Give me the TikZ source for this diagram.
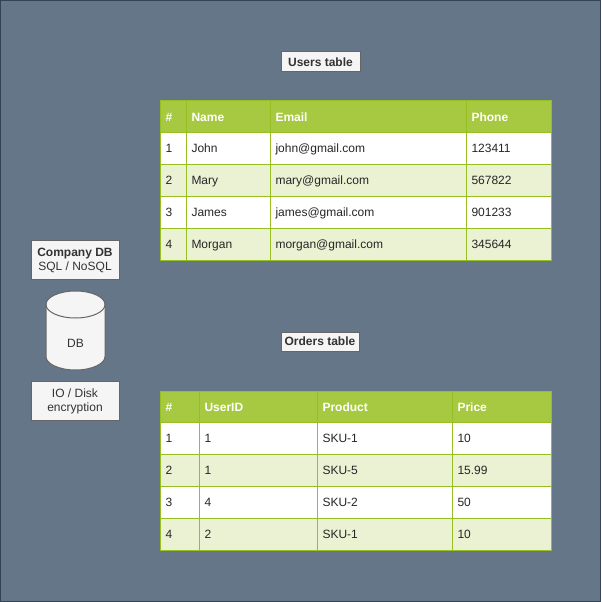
\documentclass[tikz,border=0pt]{standalone}
\usepackage{fontspec}
\setmainfont{Liberation Sans}
\usetikzlibrary{positioning}
\definecolor{slatebg}{HTML}{647687}
\definecolor{slateline}{HTML}{314354}
\definecolor{headfill}{HTML}{A7C942}
\definecolor{cellline}{HTML}{98BF21}
\definecolor{altfill}{HTML}{EAF2D3}
\definecolor{notefill}{HTML}{F5F5F5}
\definecolor{noteline}{HTML}{666666}
\definecolor{notetext}{HTML}{333333}
\tikzset{
  note/.style={draw=noteline, fill=notefill, text=notetext, line width=.75pt, inner sep=0pt, align=center, font=\fontsize{9}{10.5}\selectfont},
  cell/.style={draw=cellline, line width=.75pt, outer sep=0pt, anchor=north west, inner xsep=3.75pt, inner ysep=0pt, align=left, text height=6.975pt, text depth=1.525pt, font=\fontsize{9}{11}\selectfont},
  bodycell/.style={cell, text=black!85},
  headcell/.style={cell, fill=headfill, text=white, text height=7.8pt, text depth=0.7pt, font=\fontsize{9}{11}\selectfont\bfseries}
}

\begin{document}
\begin{tikzpicture}[x=0.75pt, y=-0.75pt]

  % ---------- Background ----------
  \useasboundingbox (0, 0) rectangle (601, 602);
  \draw[fill=slatebg, draw=slateline, line width=.75pt] (0.5, 0.5) rectangle (600.5, 601.5);

  % ---------- Left side ----------
  \node[note, text depth=0pt, minimum width=66pt, minimum height=29.25pt] at (75, 259.5) (companyDB) {\textbf{Company DB}\\SQL / NoSQL};
  \draw[fill=notefill, draw=noteline, line width=.75pt] (46, 304.5) -- (46, 356.5) arc[start angle=180, end angle=0, x radius=29.5, y radius=13.5] -- (105, 304.5) arc[start angle=0, end angle=-180, x radius=29.5, y radius=13.5];
  \draw[draw=noteline, line width=.75pt] (46, 304.5) arc[start angle=180, end angle=0, x radius=29.5, y radius=13.5];
  \node[text=notetext, inner sep=0pt, font=\fontsize{9}{11}\selectfont] at (75.5, 343) (db) {DB};
  \node[note, text depth=0pt, minimum width=66pt, minimum height=29.25pt] at (75, 400.5) (diskEnc) {IO / Disk\\encryption};

  % ---------- Titles ----------
  \node[note, minimum width=59.25pt, minimum height=15pt, font=\fontsize{9}{11}\selectfont\bfseries] at (320.5, 62) (usersTitle) {Users table};
  \node[note, minimum width=58.5pt, minimum height=14.25pt, font=\fontsize{9}{11}\selectfont\bfseries] at (320, 341.5) (ordersTitle) {Orders table};

  % ---------- Users table ----------
  \foreach \cx/\cw/\ctext [count=\j] in {160.5/26/\#, 186.5/84/Name, 270.5/196/Email, 466.5/84.5/Phone} {
    \pgfmathsetmacro{\tw}{(\cw-10)*0.75}
    \pgfmathsetmacro{\ch}{(31.5-8.5/0.75)*0.75/2}
    \node[headcell, text width=\tw pt, inner ysep=\ch pt] at (\cx, 101) (usersHead\j) {\ctext};
  }
  \foreach \ry/\rh/\rfill/\ca/\cb/\cc/\cd [count=\i] in {
      132.5/32/white/1/John/john@gmail.com/123411,
      164.5/32/altfill/2/Mary/mary@gmail.com/567822,
      196.5/32/white/3/James/james@gmail.com/901233,
      228.5/32/altfill/4/Morgan/morgan@gmail.com/345644} {
    \foreach \cx/\cw/\ctext [count=\j] in {160.5/26/\ca, 186.5/84/\cb, 270.5/196/\cc, 466.5/84.5/\cd} {
      \pgfmathsetmacro{\tw}{(\cw-10)*0.75}
      \pgfmathsetmacro{\ch}{(\rh-8.5/0.75)*0.75/2}
      \node[bodycell, fill=\rfill, text width=\tw pt, inner ysep=\ch pt] at (\cx, \ry) (users\i-\j) {\ctext};
    }
  }

  % ---------- Orders table ----------
  \foreach \cx/\cw/\ctext [count=\j] in {160.5/39/\#, 199.5/118/UserID, 317.5/135/Product, 452.5/98.5/Price} {
    \pgfmathsetmacro{\tw}{(\cw-10)*0.75}
    \pgfmathsetmacro{\ch}{(31.5-8.5/0.75)*0.75/2}
    \node[headcell, text width=\tw pt, inner ysep=\ch pt] at (\cx, 391) (ordersHead\j) {\ctext};
  }
  \foreach \ry/\rh/\rfill/\ca/\cb/\cc/\cd [count=\i] in {
      422.5/32/white/1/1/SKU-1/10,
      454.5/32/altfill/2/1/SKU-5/15.99,
      486.5/32/white/3/4/SKU-2/50,
      518.5/32/altfill/4/2/SKU-1/10} {
    \foreach \cx/\cw/\ctext [count=\j] in {160.5/39/\ca, 199.5/118/\cb, 317.5/135/\cc, 452.5/98.5/\cd} {
      \pgfmathsetmacro{\tw}{(\cw-10)*0.75}
      \pgfmathsetmacro{\ch}{(\rh-8.5/0.75)*0.75/2}
      \node[bodycell, fill=\rfill, text width=\tw pt, inner ysep=\ch pt] at (\cx, \ry) (orders\i-\j) {\ctext};
    }
  }
\end{tikzpicture}
\end{document}
